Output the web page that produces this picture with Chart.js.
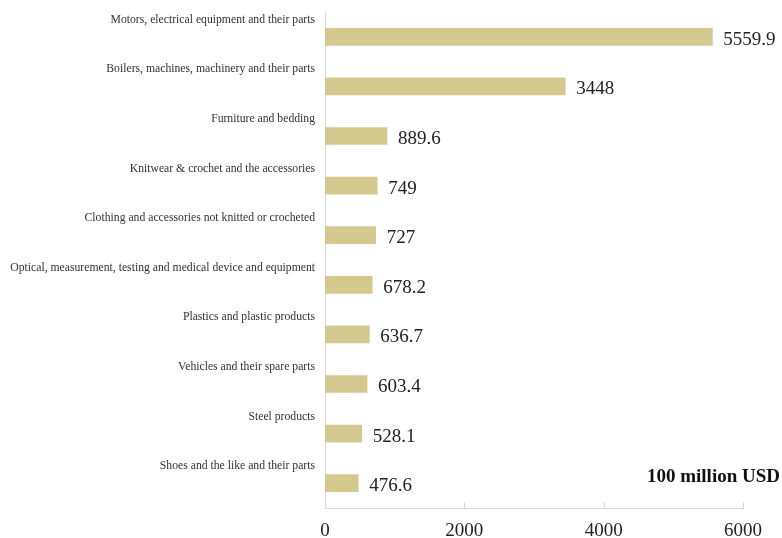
<!DOCTYPE html>
<html>
<head>
<meta charset="utf-8">
<script src="https://cdn.jsdelivr.net/npm/chart.js@4.4.0/dist/chart.umd.min.js"></script>
<style>
  html, body { margin: 0; padding: 0; background: #fff; }
  #wrap { width: 782px; height: 538px; }
</style>
</head>
<body>
<div id="wrap"><canvas id="grafico"></canvas></div>
<script>
const categorias = [
  'Motors, electrical equipment and their parts',
  'Boilers, machines, machinery and their parts',
  'Furniture and bedding',
  'Knitwear & crochet and the accessories',
  'Clothing and accessories not knitted or crocheted',
  'Optical, measurement, testing and medical device and equipment',
  'Plastics and plastic products',
  'Vehicles and their spare parts',
  'Steel products',
  'Shoes and the like and their parts'
];
const valores = [5559.9, 3448, 889.6, 749, 727, 678.2, 636.7, 603.4, 528.1, 476.6];
const ticksX = [0, 2000, 4000, 6000];
const unidad = '100 million USD';

const serif = '"Liberation Serif", "Times New Roman", serif';

// etiquetas de categoría encima de cada barra y valores a la derecha
const etiquetas = {
  id: 'etiquetas',
  afterDatasetsDraw(chart) {
    const ctx = chart.ctx;
    const y = chart.scales.y;
    const meta = chart.getDatasetMeta(0);
    ctx.save();
    ctx.textBaseline = 'middle';
    categorias.forEach((c, i) => {
      const py = y.getPixelForValue(i);
      ctx.font = '11.7px ' + serif;
      ctx.fillStyle = '#333';
      ctx.textAlign = 'right';
      ctx.fillText(c, chart.chartArea.left - 10, py - 17);
      const bar = meta.data[i];
      ctx.font = '19px ' + serif;
      ctx.fillStyle = '#222';
      ctx.textAlign = 'left';
      ctx.fillText(String(valores[i]), bar.x + 11, py + 3);
    });
    // marcas del eje x hacia arriba
    const x = chart.scales.x;
    ctx.strokeStyle = '#d9d9d9';
    ctx.lineWidth = 1;
    ticksX.slice(1).forEach(v => {
      const px = Math.round(x.getPixelForValue(v)) + 0.5;
      ctx.beginPath();
      ctx.moveTo(px, chart.chartArea.bottom);
      ctx.lineTo(px, chart.chartArea.bottom - 6);
      ctx.stroke();
    });
    ctx.font = 'bold 19px ' + serif;
    ctx.fillStyle = '#111';
    ctx.textAlign = 'right';
    ctx.fillText(unidad, 780, 477);
    ctx.restore();
  }
};

new Chart(document.getElementById('grafico'), {
  type: 'bar',
  data: {
    labels: categorias,
    datasets: [{
      data: valores,
      backgroundColor: '#d3c88e',
      barThickness: 17
    }]
  },
  options: {
    indexAxis: 'y',
    responsive: true,
    maintainAspectRatio: false,
    animation: false,
    layout: { padding: { left: 325, right: 39, top: 12, bottom: 0 } },
    plugins: {
      legend: { display: false },
      tooltip: { enabled: false }
    },
    scales: {
      x: {
        min: 0,
        max: 6000,
        afterBuildTicks(scale) { scale.ticks = ticksX.map(v => ({ value: v })); },
        afterFit(scale) { scale.height = 30; },
        grid: { display: false, drawTicks: false },
        border: { display: true, color: '#d9d9d9' },
        ticks: {
          color: '#222',
          padding: 12,
          callback: v => String(v),
          font: { family: serif, size: 19, lineHeight: 1.2 }
        }
      },
      y: {
        grid: { display: false, drawTicks: false },
        border: { display: true, color: '#d9d9d9' },
        ticks: { display: false },
        afterFit(scale) { scale.width = 0; }
      }
    }
  },
  plugins: [etiquetas]
});
</script>
</body>
</html>
